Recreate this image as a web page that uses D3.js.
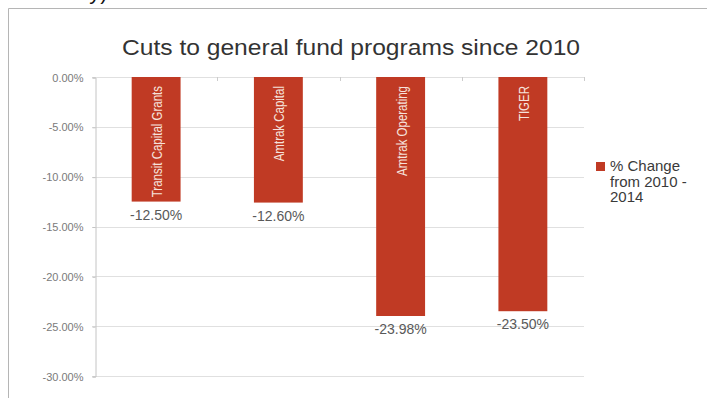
<!DOCTYPE html>
<html>
<head>
<meta charset="utf-8">
<script src="https://cdn.jsdelivr.net/npm/d3@7"></script>
<style>
  html, body { margin: 0; padding: 0; background: #fff; }
  svg { display: block; font-family: "Liberation Sans", Arial, Helvetica, sans-serif; }
</style>
</head>
<body>
<div id="chart"></div>
<script>
// Cuts to general fund programs since 2010 - single series column chart, negative values

const categories = ["Transit Capital Grants", "Amtrak Capital", "Amtrak Operating", "TIGER"];
const values = [-12.50, -12.60, -23.98, -23.50];
const yTicks = [0, -5, -10, -15, -20, -25, -30];
const legendLines = ["% Change", "from 2010 -", "2014"];
const titleText = "Cuts to general fund programs since 2010";

const BAR = "#c03a24";
const W = 707, H = 398;

const svg = d3.select("#chart").append("svg")
  .attr("width", W)
  .attr("height", H);

svg.append("rect").attr("width", W).attr("height", H).attr("fill", "#fff");

// bottom of a text line from the slide above, cut by the screenshot edge
svg.append("text")
  .attr("x", 28).attr("y", -1)
  .attr("font-size", 22)
  .attr("fill", "#111")
  .text("country)");

// slide frame
svg.append("path")
  .attr("d", `M8.5,${H} V8.5 H${W}`)
  .attr("fill", "none")
  .attr("stroke", "#b5b5b5")
  .attr("stroke-width", 1);

const plot = { left: 95, right: 584, top: 77, bottom: 376 };

const x = d3.scaleBand()
  .domain(categories)
  .range([plot.left, plot.right])
  .paddingInner(0.6)
  .paddingOuter(0.3);

const y = d3.scaleLinear()
  .domain([d3.min(yTicks), d3.max(yTicks)])
  .range([plot.bottom, plot.top]);

// title
svg.append("text")
  .attr("x", 122).attr("y", 55)
  .attr("font-size", 22)
  .attr("fill", "#333")
  .attr("textLength", 458)
  .attr("lengthAdjust", "spacingAndGlyphs")
  .text(titleText);

// gridlines
svg.append("g").selectAll("line")
  .data(yTicks)
  .join("line")
  .attr("x1", plot.left - 3).attr("x2", plot.right)
  .attr("y1", d => Math.round(y(d)) + 0.5)
  .attr("y2", d => Math.round(y(d)) + 0.5)
  .attr("stroke", "#e0e0e0");

// y axis
const yAxis = svg.append("g")
  .attr("transform", `translate(${plot.left + 0.5},0.5)`)
  .call(d3.axisLeft(y)
    .tickValues(yTicks)
    .tickSize(3)
    .tickPadding(9)
    .tickFormat(d => d.toFixed(2) + "%"));
yAxis.select(".domain").attr("stroke", "#c4c4c4");
yAxis.selectAll(".tick line").attr("stroke", "#c4c4c4");
yAxis.selectAll(".tick text")
  .attr("font-size", 11)
  .attr("font-family", "Liberation Sans, Arial, sans-serif")
  .attr("fill", "#7a7a7a");

// category boundary ticks along the zero line
const step = x.step();
svg.append("g").selectAll("line")
  .data(categories)
  .join("line")
  .attr("x1", d => Math.round(x(d) + x.bandwidth() / 2 + step / 2) + 0.5)
  .attr("x2", d => Math.round(x(d) + x.bandwidth() / 2 + step / 2) + 0.5)
  .attr("y1", y(0)).attr("y2", y(0) + 4)
  .attr("stroke", "#cccccc");

// bars
const data = categories.map((c, i) => ({ cat: c, v: values[i] }));

svg.append("g").selectAll("rect")
  .data(data)
  .join("rect")
  .attr("x", d => x(d.cat))
  .attr("y", y(0))
  .attr("width", x.bandwidth())
  .attr("height", d => y(d.v) - y(0))
  .attr("fill", BAR);

// category names inside bars, rotated (condensed like the original font)
svg.append("g").selectAll("text")
  .data(data)
  .join("text")
  .attr("transform", d => `translate(${x(d.cat) + x.bandwidth() / 2 + 1},${y(0) + 9}) rotate(-90)`)
  .attr("text-anchor", "end")
  .attr("dy", "0.36em")
  .attr("font-size", 14)
  .attr("fill", "#f6e2dc")
  .text(d => d.cat)
  .each(function () {
    const len = this.getComputedTextLength();
    d3.select(this).attr("textLength", len * 0.82).attr("lengthAdjust", "spacingAndGlyphs");
  });

// value labels below bars
svg.append("g").selectAll("text")
  .data(data)
  .join("text")
  .attr("x", d => x(d.cat) + x.bandwidth() / 2)
  .attr("y", d => y(d.v) + 18)
  .attr("text-anchor", "middle")
  .attr("font-size", 14)
  .attr("fill", "#595959")
  .text(d => d.v.toFixed(2) + "%");

// legend
const lg = svg.append("g").attr("transform", "translate(596,162)");
lg.append("rect").attr("width", 9).attr("height", 9).attr("fill", BAR);
lg.selectAll("text")
  .data(legendLines)
  .join("text")
  .attr("x", 14)
  .attr("y", (d, i) => 9 + i * 15.5)
  .attr("font-size", 15)
  .attr("fill", "#3a3a3a")
  .text(d => d);
</script>
</body>
</html>
